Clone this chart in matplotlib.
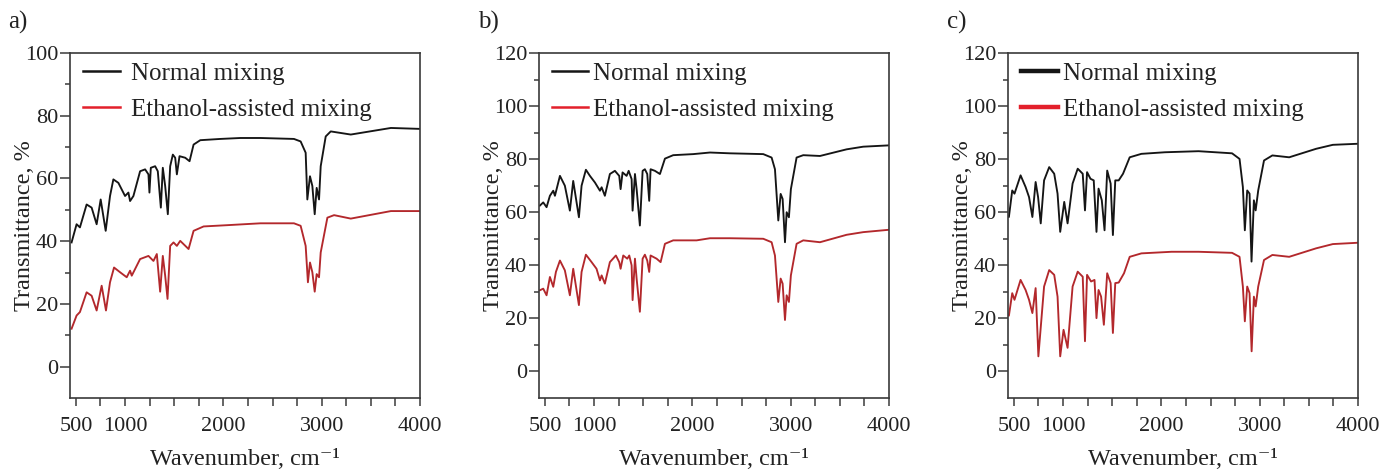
import matplotlib
matplotlib.use('Agg')
import matplotlib.pyplot as plt
from matplotlib.ticker import MultipleLocator, FixedLocator, FixedFormatter

plt.rcParams['font.family'] = ['Liberation Serif', 'DejaVu Serif']

# ---------------- data ----------------
series_labels = ["Normal mixing", "Ethanol-assisted mixing"]
panel_labels = ["a)", "b)", "c)"]
x_ticks = [500, 750, 1000, 1250, 1500, 1750, 2000, 2250, 2500, 2750, 3000, 3250, 3500, 3750, 4000]
x_ticklabels = ["500", "", "1000", "", "", "", "2000", "", "", "", "3000", "", "", "", "4000"]

# panel a
wn_a_normal = [456, 507, 541, 609, 660, 711, 752, 803, 847, 881, 932, 1000, 1034, 1051, 1085, 1153, 1204, 1238,
               1248, 1262, 1306, 1333, 1364, 1384, 1408, 1435, 1459, 1486, 1510, 1527, 1554, 1612, 1656, 1697,
               1765, 1969, 2173, 2378, 2718, 2786, 2837, 2854, 2881, 2905, 2929, 2949, 2973, 2990, 3041, 3092,
               3296, 3704, 4003]
t_a_normal = [39.6, 45.4, 44.4, 51.7, 50.7, 45.4, 53.3, 43.3, 54.4, 59.7, 58.6, 54.4, 55.5, 52.8, 54.4, 62.3, 62.9,
              61.3, 55.5, 63.4, 63.9, 62.3, 50.7, 63.4, 57.6, 48.6, 63.9, 67.6, 66.6, 61.3, 67.1, 66.6, 65.5, 70.8,
              72.2, 72.6, 72.9, 72.9, 72.6, 71.8, 68.2, 53.3, 60.7, 57.6, 48.6, 57.0, 53.3, 63.9, 73.4, 75.0,
              74.0, 76.1, 75.8]
wn_a_ethanol = [456, 507, 541, 609, 660, 711, 762, 806, 847, 888, 949, 1017, 1051, 1068, 1153, 1238, 1289, 1323,
                1357, 1384, 1408, 1432, 1459, 1493, 1527, 1561, 1646, 1697, 1799, 2037, 2378, 2718, 2786, 2837,
                2860, 2881, 2905, 2929, 2949, 2973, 2990, 3058, 3126, 3296, 3704, 4003]
t_a_ethanol = [12.1, 16.3, 17.4, 23.7, 22.6, 17.9, 25.8, 17.9, 26.9, 31.6, 30.1, 28.5, 30.6, 29.0, 34.3, 35.3, 33.7,
               35.9, 23.9, 35.3, 29.0, 21.6, 38.5, 39.6, 38.5, 40.1, 37.5, 43.3, 44.7, 45.1, 45.7, 45.7, 44.9, 38.5,
               26.9, 33.2, 30.1, 23.9, 29.5, 28.5, 36.4, 47.5, 48.3, 47.2, 49.6, 49.6]

# panel b
wn_b_normal = [449, 483, 517, 551, 585, 602, 653, 703, 754, 788, 846, 873, 917, 958, 1009, 1060, 1077, 1110, 1161,
               1212, 1256, 1270, 1290, 1331, 1352, 1382, 1392, 1416, 1433, 1466, 1494, 1517, 1541, 1561, 1575,
               1619, 1670, 1721, 1805, 2009, 2179, 2382, 2721, 2806, 2840, 2874, 2898, 2918, 2942, 2959, 2982,
               3002, 3060, 3128, 3298, 3569, 3738, 4003]
t_b_normal = [62.5, 63.7, 61.9, 66.2, 68.1, 66.2, 73.7, 70.0, 60.6, 71.8, 58.1, 70.0, 76.0, 73.7, 71.2, 68.1, 69.4,
              66.2, 74.4, 75.6, 73.7, 68.7, 75.0, 73.7, 75.6, 72.5, 60.6, 74.4, 68.7, 55.0, 75.6, 76.2, 74.4, 64.3,
              76.2, 75.6, 74.4, 80.2, 81.5, 81.9, 82.5, 82.2, 81.9, 80.6, 76.2, 56.9, 66.9, 65.0, 48.7, 60.0, 58.1,
              68.7, 80.6, 81.5, 81.2, 83.7, 84.7, 85.2]
wn_b_ethanol = [449, 483, 517, 551, 585, 612, 653, 703, 754, 788, 846, 873, 917, 975, 1025, 1060, 1077, 1110, 1161,
                1222, 1256, 1270, 1297, 1338, 1358, 1382, 1392, 1416, 1433, 1466, 1494, 1517, 1541, 1561, 1575,
                1636, 1677, 1721, 1805, 2043, 2179, 2382, 2721, 2806, 2840, 2874, 2898, 2918, 2942, 2959, 2982,
                3002, 3060, 3128, 3298, 3569, 3738, 4003]
t_b_ethanol = [30.6, 31.2, 28.7, 35.6, 31.9, 37.5, 41.8, 38.1, 28.7, 38.7, 25.0, 37.5, 44.0, 41.2, 38.7, 34.3, 36.2,
               33.1, 41.2, 43.7, 41.2, 38.7, 43.7, 42.5, 43.7, 40.0, 26.9, 42.5, 35.0, 22.5, 42.5, 44.0, 41.8, 37.5,
               43.7, 42.5, 41.2, 48.1, 49.4, 49.4, 50.2, 50.2, 50.0, 48.7, 43.7, 26.2, 35.0, 33.1, 19.4, 28.7, 26.2,
               36.2, 48.1, 49.4, 48.7, 51.5, 52.5, 53.4]

# panel c
wn_c_normal = [424, 449, 483, 506, 568, 619, 654, 688, 721, 746, 773, 807, 859, 910, 944, 971, 1012, 1046, 1097,
               1149, 1200, 1223, 1244, 1279, 1312, 1340, 1361, 1394, 1422, 1449, 1484, 1507, 1531, 1566, 1610,
               1678, 1797, 2037, 2378, 2719, 2795, 2829, 2849, 2873, 2897, 2917, 2941, 2959, 2985, 3044, 3129,
               3300, 3574, 3744, 4000]
t_c_normal = [58.9, 58.2, 68.2, 67.0, 73.9, 69.5, 65.7, 58.2, 71.4, 65.7, 55.8, 72.0, 77.0, 74.5, 67.0, 52.6, 63.9,
              55.8, 70.8, 76.4, 74.5, 60.7, 75.1, 72.6, 72.0, 52.6, 68.9, 64.5, 53.2, 75.7, 70.8, 51.4, 72.0, 72.0,
              74.5, 80.7, 82.0, 82.6, 83.0, 82.2, 80.1, 69.5, 53.2, 68.2, 67.0, 41.4, 64.5, 60.7, 68.2, 79.5, 81.4,
              80.7, 83.9, 85.4, 85.8]
wn_c_ethanol = [424, 449, 483, 506, 568, 619, 654, 688, 721, 749, 807, 859, 910, 944, 971, 1005, 1046, 1097, 1149,
                1200, 1223, 1244, 1285, 1320, 1340, 1361, 1387, 1415, 1449, 1484, 1507, 1531, 1566, 1620, 1678,
                1797, 2104, 2378, 2719, 2795, 2829, 2849, 2873, 2897, 2918, 2941, 2959, 2985, 3044, 3129, 3300,
                3574, 3744, 4000]
t_c_ethanol = [21.4, 21.0, 29.5, 27.0, 34.5, 30.7, 27.0, 22.0, 31.4, 5.7, 32.0, 38.2, 36.4, 28.2, 5.7, 15.7, 8.9,
               32.0, 37.6, 35.7, 11.4, 36.4, 33.9, 34.5, 20.1, 30.7, 28.2, 17.6, 37.0, 33.3, 14.5, 33.3, 33.5, 37.0,
               43.2, 44.5, 45.1, 45.1, 44.7, 43.2, 32.0, 18.9, 32.0, 29.5, 7.6, 28.2, 24.5, 32.0, 42.0, 43.9, 43.2,
               46.4, 48.0, 48.5]

panels = [
    (wn_a_normal, t_a_normal, wn_a_ethanol, t_a_ethanol, 100),
    (wn_b_normal, t_b_normal, wn_b_ethanol, t_b_ethanol, 120),
    (wn_c_normal, t_c_normal, wn_c_ethanol, t_c_ethanol, 120),
]

# ---------------- figure ----------------
W, H = 1397, 475
fig = plt.figure(figsize=(W / 100, H / 100), dpi=100)

ax_lefts = [70, 539, 1008]
ax_w = 350
ax_top, ax_bot = 53, 398
label_x = [8, 478, 947]

legend_cfg = [
    dict(handlelength=1.5, handletextpad=0.45, lw=1.8),
    dict(handlelength=1.45, handletextpad=0.2, lw=1.8),
    dict(handlelength=1.5, handletextpad=0.2, lw=3.2),
]

black = '#151515'
red_line = '#b3282c'
red_leg = '#e3202b'
spine_col = '#3a3a3a'
text_col = '#222222'

for i, (wn1, t1, wn2, t2, ytop) in enumerate(panels):
    ax = fig.add_axes([ax_lefts[i] / W, 1 - ax_bot / H, ax_w / W, (ax_bot - ax_top) / H])
    ax.plot(wn1, t1, color=black, lw=1.35, label=series_labels[0])
    ax.plot(wn2, t2, color=red_line, lw=1.35, label=series_labels[1])
    ax.set_xlim(440, 4000)
    ax.set_ylim(-10, ytop)
    ax.xaxis.set_major_locator(FixedLocator(x_ticks))
    ax.xaxis.set_major_formatter(FixedFormatter(x_ticklabels))
    ax.yaxis.set_major_locator(MultipleLocator(20))
    ax.yaxis.set_minor_locator(FixedLocator(list(range(10, ytop, 20))))
    ax.tick_params(axis='x', direction='out', length=6, width=1.1, labelsize=16, pad=8, colors=spine_col,
                   labelcolor=text_col)
    ax.tick_params(axis='y', which='major', direction='out', length=7, width=1.1, labelsize=16, pad=1.5,
                   colors=spine_col, labelcolor=text_col)
    ax.tick_params(axis='y', which='minor', direction='out', length=3.5, width=1.1, colors=spine_col)
    for s in ax.spines.values():
        s.set_linewidth(1.2)
        s.set_color(spine_col)
    ax.set_ylabel('Transmittance, %', fontsize=17.5, color=text_col)
    ax.yaxis.set_label_coords(-35 / ax_w, 0.5)
    ax.set_xlabel('Wavenumber, cm\u207b\u00b9', fontsize=17.5, color=text_col)
    ax.xaxis.set_label_coords(0.5, -51 / (ax_bot - ax_top))

    cfg = legend_cfg[i]
    leg = ax.legend(loc='upper left', bbox_to_anchor=(12.5 / ax_w, 0.972), frameon=False, fontsize=18,
                    borderaxespad=0, borderpad=0, handlelength=cfg['handlelength'],
                    handletextpad=cfg['handletextpad'], labelspacing=0.52)
    hs = leg.legend_handles
    hs[0].set_color(black)
    hs[1].set_color(red_leg)
    for h in hs:
        h.set_linewidth(cfg['lw'])
    for t in leg.get_texts():
        t.set_color(text_col)

    fig.text(label_x[i] / W, 1 - 22 / H, panel_labels[i], fontsize=18, va='center', ha='left', color=text_col)

fig.savefig('out.png', dpi=100)
